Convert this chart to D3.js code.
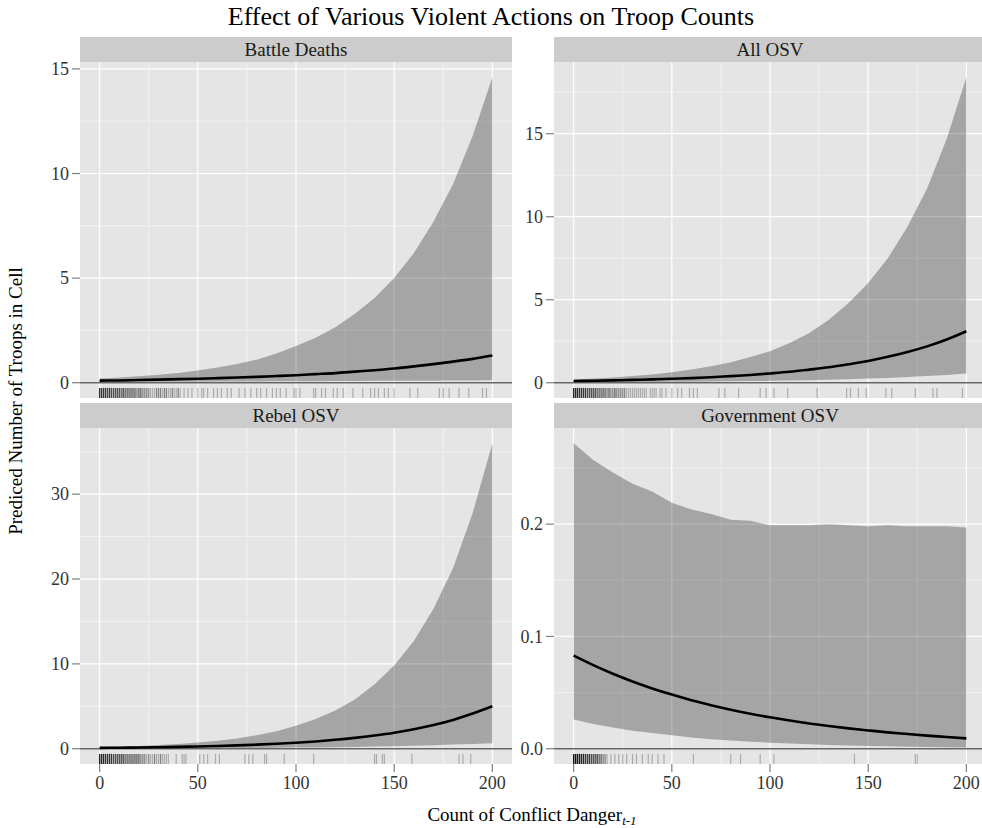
<!DOCTYPE html>
<html>
<head>
<meta charset="utf-8">
<script src="https://cdn.jsdelivr.net/npm/d3@7"></script>
<style>
  body { margin: 0; background: #fff; }
  svg { display: block; }
  text { font-family: "Liberation Serif", "Times New Roman", serif; }
</style>
</head>
<body>
<svg id="chart" width="982" height="828"></svg>
<script>
// ---- data ----------------------------------------------------------------
const chartTitle = "Effect of Various Violent Actions on Troop Counts";
const yTitle = "Prediced Number of Troops in Cell";
const panelNames = ["Battle Deaths", "All OSV", "Rebel OSV", "Government OSV"];

// conflict-danger counts at which predictions are evaluated
const danger = [0, 10, 20, 30, 40, 50, 60, 70, 80, 90, 100, 110, 120, 130, 140, 150, 160, 170, 180, 190, 200];
const xTicks = [0, 50, 100, 150, 200];

const battleMean  = [0.10, 0.11, 0.13, 0.15, 0.17, 0.19, 0.22, 0.25, 0.28, 0.32, 0.36, 0.41, 0.46, 0.53, 0.60, 0.68, 0.78, 0.89, 1.01, 1.14, 1.30];
const battleUpper = [0.20, 0.25, 0.31, 0.38, 0.47, 0.59, 0.73, 0.90, 1.10, 1.40, 1.75, 2.15, 2.65, 3.30, 4.05, 5.00, 6.20, 7.70, 9.50, 11.8, 14.6];
const battleLower = [0.04, 0.04, 0.05, 0.05, 0.05, 0.05, 0.06, 0.06, 0.06, 0.07, 0.07, 0.07, 0.08, 0.08, 0.09, 0.09, 0.10, 0.10, 0.11, 0.11, 0.12];
const battleTicks = [0, 5, 10, 15];

const allMean  = [0.10, 0.12, 0.14, 0.17, 0.20, 0.24, 0.28, 0.33, 0.40, 0.47, 0.56, 0.66, 0.79, 0.93, 1.11, 1.31, 1.56, 1.85, 2.19, 2.60, 3.10];
const allUpper = [0.20, 0.26, 0.32, 0.40, 0.50, 0.63, 0.79, 0.99, 1.24, 1.55, 1.90, 2.40, 3.00, 3.80, 4.80, 6.00, 7.50, 9.40, 11.7, 14.7, 18.4];
const allLower = [0.03, 0.035, 0.04, 0.045, 0.05, 0.06, 0.065, 0.075, 0.085, 0.10, 0.115, 0.13, 0.15, 0.18, 0.21, 0.25, 0.29, 0.34, 0.40, 0.47, 0.55];
const allTicks = [0, 5, 10, 15];

const rebelMean  = [0.10, 0.12, 0.15, 0.18, 0.22, 0.27, 0.32, 0.39, 0.48, 0.58, 0.71, 0.86, 1.05, 1.28, 1.56, 1.89, 2.30, 2.80, 3.40, 4.14, 5.00];
const rebelUpper = [0.20, 0.26, 0.33, 0.43, 0.56, 0.73, 0.94, 1.22, 1.59, 2.06, 2.70, 3.50, 4.50, 5.80, 7.60, 9.80, 12.7, 16.5, 21.3, 27.8, 36.0];
const rebelLower = [0.03, 0.035, 0.04, 0.045, 0.05, 0.06, 0.07, 0.08, 0.09, 0.11, 0.13, 0.15, 0.17, 0.20, 0.25, 0.30, 0.35, 0.42, 0.49, 0.57, 0.65];
const rebelTicks = [0, 10, 20, 30];

const govMean  = [0.0830, 0.0745, 0.0668, 0.0599, 0.0537, 0.0482, 0.0432, 0.0388, 0.0348, 0.0312, 0.0280, 0.0251, 0.0225, 0.0202, 0.0181, 0.0163, 0.0146, 0.0131, 0.0117, 0.0105, 0.0092];
const govUpper = [0.272, 0.257, 0.246, 0.236, 0.229, 0.219, 0.213, 0.209, 0.204, 0.203, 0.199, 0.199, 0.199, 0.200, 0.199, 0.198, 0.199, 0.198, 0.198, 0.198, 0.197];
const govLower = [0.026, 0.022, 0.019, 0.016, 0.014, 0.012, 0.010, 0.0085, 0.0073, 0.0063, 0.0054, 0.0046, 0.0040, 0.0034, 0.0029, 0.0025, 0.0021, 0.0018, 0.0016, 0.0013, 0.0011];
const govTicks = [0.0, 0.1, 0.2];

// observed conflict-danger values (rug): counts of cells at 0,1,2,... then isolated values
const battleRugCounts = [6, 5, 5, 5, 4, 5, 4, 4, 4, 4, 4, 3, 4, 3, 3, 3, 3, 3, 3, 2, 3, 3, 2, 2, 2, 2, 1, 1, 1, 2, 2, 2, 1, 2, 2, 1, 1, 2, 1, 1, 2, 1];
const battleRugSparse = [43, 45, 47, 50, 52, 53, 55, 58, 60, 62, 65, 67, 71, 74, 77, 80, 82, 85, 88, 90, 92, 95, 99, 100, 102, 109, 110, 113, 115, 119, 121, 124, 129, 134, 138, 140, 142, 145, 147, 150, 158, 162, 173, 175, 178, 183, 188, 195, 197];
const allRugCounts = [7, 6, 6, 5, 5, 5, 5, 4, 4, 4, 4, 4, 3, 3, 3, 3, 3, 2, 3, 2, 2, 3, 2, 2, 2, 2, 2, 1, 1, 1, 1, 1, 1, 1, 1, 1, 1, 1, 0, 1, 1, 1, 1, 0, 1, 1, 0, 1];
const allRugSparse = [50, 53, 55, 59, 61, 63, 74, 77, 84, 95, 98, 102, 109, 124, 139, 141, 145, 149, 159, 162, 174, 183, 185, 198];
const rebelRugCounts = [7, 6, 6, 5, 5, 5, 5, 4, 4, 4, 4, 4, 4, 3, 3, 3, 3, 3, 3, 3, 3, 2, 2, 2, 1, 2, 1, 1, 2, 1, 1, 2, 1, 1, 1, 1];
const rebelRugSparse = [39, 42, 43, 44, 51, 53, 55, 59, 61, 74, 76, 78, 84, 85, 94, 109, 140, 141, 144, 145, 159, 183, 185, 189];
const govRugCounts = [9, 8, 7, 7, 6, 6, 5, 5, 5, 4, 4, 4, 4, 3, 3, 2, 2, 1];
const govRugSparse = [19, 21, 23, 25, 27, 30, 32, 35, 38, 40, 43, 46, 61, 80, 85, 95, 102, 143, 174, 175];

const panels = [
  { name: panelNames[0], mean: battleMean, upper: battleUpper, lower: battleLower, ticks: battleTicks, rugCounts: battleRugCounts, rugSparse: battleRugSparse, fmt: d3.format("d") },
  { name: panelNames[1], mean: allMean,    upper: allUpper,    lower: allLower,    ticks: allTicks,    rugCounts: allRugCounts,    rugSparse: allRugSparse,    fmt: d3.format("d") },
  { name: panelNames[2], mean: rebelMean,  upper: rebelUpper,  lower: rebelLower,  ticks: rebelTicks,  rugCounts: rebelRugCounts,  rugSparse: rebelRugSparse,  fmt: d3.format("d") },
  { name: panelNames[3], mean: govMean,    upper: govUpper,    lower: govLower,    ticks: govTicks,    rugCounts: govRugCounts,    rugSparse: govRugSparse,    fmt: d3.format(".1f") }
];

// ---- layout --------------------------------------------------------------
const colLeft = [80, 554];
const stripTop = [37, 403];
const panelW = 432, stripH = 25, panelH = 336;
const FONT = 18;

const svg = d3.select("#chart");

svg.append("text")
  .attr("x", 491).attr("y", 25)
  .attr("text-anchor", "middle")
  .attr("font-size", 26).attr("fill", "#000")
  .text(chartTitle);

panels.forEach((p, i) => {
  const col = i % 2, row = Math.floor(i / 2);
  const left = colLeft[col];
  const sTop = stripTop[row];
  const top = sTop + stripH, bottom = top + panelH;

  const x = d3.scaleLinear().domain([-10, 210]).range([left, left + panelW]);
  const hi = d3.max(p.upper), lo = Math.min(0, d3.min(p.lower));
  const r = hi - lo;
  const y = d3.scaleLinear().domain([lo - 0.05 * r, hi + 0.05 * r]).range([bottom, top]);

  const g = svg.append("g");

  // strip
  g.append("rect").attr("x", left).attr("y", sTop).attr("width", panelW).attr("height", stripH).attr("fill", "#cccccc");
  g.append("text").attr("x", left + panelW / 2).attr("y", sTop + stripH / 2).attr("dy", "0.35em")
    .attr("text-anchor", "middle").attr("font-size", 19).attr("fill", "#1a1a1a").text(p.name);

  // panel background
  g.append("rect").attr("x", left).attr("y", top).attr("width", panelW).attr("height", panelH).attr("fill", "#e5e5e5");

  // grid lines
  const step = p.ticks[1] - p.ticks[0];
  const yMinor = p.ticks.map(t => t + step / 2).filter(v => v > y.domain()[0] && v < y.domain()[1]);
  const xMinor = xTicks.slice(0, -1).map(t => t + 25);
  g.selectAll(".ymin").data(yMinor).join("line")
    .attr("x1", left).attr("x2", left + panelW).attr("y1", d => y(d)).attr("y2", d => y(d))
    .attr("stroke", "#f2f2f2").attr("stroke-width", 1);
  g.selectAll(".xmin").data(xMinor).join("line")
    .attr("y1", top).attr("y2", bottom).attr("x1", d => x(d)).attr("x2", d => x(d))
    .attr("stroke", "#f2f2f2").attr("stroke-width", 1);
  g.selectAll(".ymaj").data(p.ticks).join("line")
    .attr("x1", left).attr("x2", left + panelW).attr("y1", d => y(d)).attr("y2", d => y(d))
    .attr("stroke", "#ffffff").attr("stroke-width", 1.2);
  g.selectAll(".xmaj").data(xTicks).join("line")
    .attr("y1", top).attr("y2", bottom).attr("x1", d => x(d)).attr("x2", d => x(d))
    .attr("stroke", "#ffffff").attr("stroke-width", 1.2);

  // confidence band
  const rows = danger.map((d, k) => ({ x: d, m: p.mean[k], u: p.upper[k], l: p.lower[k] }));
  g.append("path").datum(rows)
    .attr("d", d3.area().x(d => x(d.x)).y0(d => y(d.l)).y1(d => y(d.u)))
    .attr("fill", "#000").attr("fill-opacity", 0.28);

  // reference line at zero
  g.append("line").attr("x1", left).attr("x2", left + panelW).attr("y1", y(0)).attr("y2", y(0))
    .attr("stroke", "#666666").attr("stroke-width", 1.4);

  // predicted mean
  g.append("path").datum(rows)
    .attr("d", d3.line().x(d => x(d.x)).y(d => y(d.m)).curve(d3.curveMonotoneX))
    .attr("fill", "none").attr("stroke", "#000").attr("stroke-width", 2.6);

  // rug
  const rugVals = [];
  p.rugCounts.forEach((c, v) => { for (let k = 0; k < c; k++) rugVals.push(v); });
  p.rugSparse.forEach(v => rugVals.push(v));
  g.selectAll(".rug").data(rugVals).join("line")
    .attr("x1", d => x(d)).attr("x2", d => x(d))
    .attr("y1", bottom - 0.03 * panelH).attr("y2", bottom)
    .attr("stroke", "#000").attr("stroke-opacity", 0.25).attr("stroke-width", 1.2);

  // y axis
  const ya = g.append("g");
  ya.selectAll("line").data(p.ticks).join("line")
    .attr("x1", left - 8).attr("x2", left).attr("y1", d => y(d)).attr("y2", d => y(d))
    .attr("stroke", "#7f7f7f").attr("stroke-width", 1.2);
  ya.selectAll("text").data(p.ticks).join("text")
    .attr("x", left - 11).attr("y", d => y(d)).attr("dy", "0.35em")
    .attr("text-anchor", "end").attr("font-size", FONT).attr("fill", "#333")
    .text(d => p.fmt(d));

  // x axis on bottom row only
  if (row === 1) {
    const xa = g.append("g");
    xa.selectAll("line").data(xTicks).join("line")
      .attr("x1", d => x(d)).attr("x2", d => x(d)).attr("y1", bottom).attr("y2", bottom + 8)
      .attr("stroke", "#7f7f7f").attr("stroke-width", 1.2);
    xa.selectAll("text").data(xTicks).join("text")
      .attr("x", d => x(d)).attr("y", bottom + 25)
      .attr("text-anchor", "middle").attr("font-size", FONT).attr("fill", "#333")
      .text(d => d);
  }
});

// axis titles
const xt = svg.append("text").attr("x", 532).attr("y", 821)
  .attr("text-anchor", "middle").attr("font-size", 19).attr("fill", "#000");
xt.append("tspan").text("Count of Conflict Danger");
xt.append("tspan").attr("font-style", "italic").attr("font-size", 13).attr("dy", 4).text("t-1");

svg.append("text")
  .attr("transform", "translate(22,401) rotate(-90)")
  .attr("text-anchor", "middle").attr("font-size", 19).attr("fill", "#000")
  .text(yTitle);
</script>
</body>
</html>
